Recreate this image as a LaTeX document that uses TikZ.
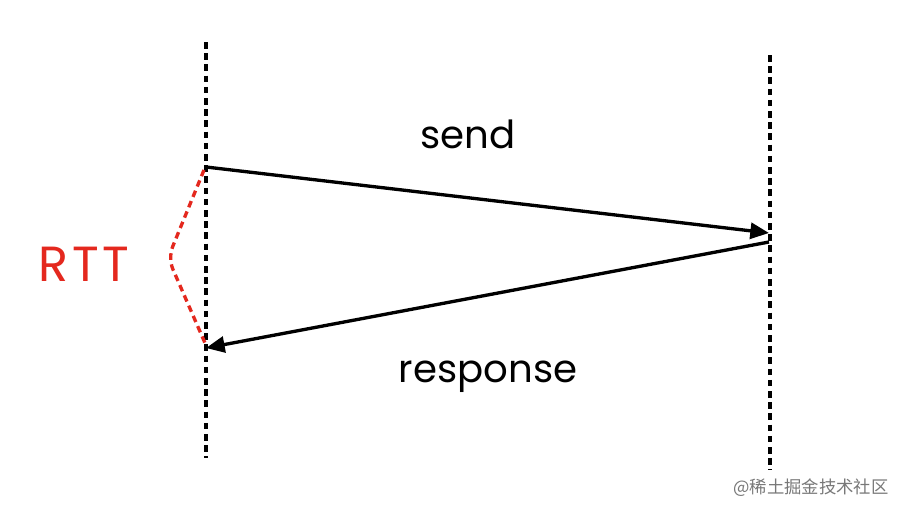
\documentclass[tikz,border=0pt]{standalone}
\usepackage{fontspec}
\setmainfont{Poppins}
\newfontfamily\cjk{Noto Sans CJK SC}
\usetikzlibrary{arrows.meta}
\definecolor{rttred}{RGB}{228,40,30}
\definecolor{wmgray}{RGB}{120,120,120}
\begin{document}
\begin{tikzpicture}[x=0.75pt,y=-0.75pt,
  lifeline/.style={line width=2.6pt,dash pattern=on 5pt off 3.4pt},
  msg/.style={line width=2.5pt,-{Triangle[length=14pt,width=12pt]}},
  rtt/.style={rttred,line width=2.5pt,dash pattern=on 5pt off 3.4pt,rounded corners=9pt},
  lbl/.style={font=\fontsize{29}{32}\selectfont,inner sep=0pt}]
\useasboundingbox[fill=white] (0,0) rectangle (909,514);
% lifelines
\coordinate (l1) at (206,42);
\coordinate (l2) at (206,458);
\coordinate (r1) at (770,55);
\coordinate (r2) at (770,470);
\draw[lifeline] (l1) -- (l2);
\draw[lifeline] (r1) -- (r2);
% messages
\coordinate (s0) at (206,167);
\coordinate (s1) at (769,233);
\coordinate (p0) at (769,242);
\coordinate (p1) at (206,348);
\draw[msg] (s0) -- (s1);
\draw[msg] (p0) -- (p1);
% RTT curve
\coordinate (c0) at (204,170);
\coordinate (cm) at (168,258);
\coordinate (c1) at (205,343);
\draw[rtt] (c0) -- (cm) -- (c1);
% labels
\node[lbl] (send) at (468,134) {send};
\node[lbl] (resp) at (488,377) {response};
\node[lbl,text=rttred,font=\fontsize{37}{38}\selectfont\addfontfeatures{LetterSpace=7}] (rttl) at (84,264) {RTT};
\node[text=wmgray,inner sep=0pt,font=\cjk\fontsize{13}{14}\selectfont] (wm) at (811,488) {@稀土掘金技术社区};
\end{tikzpicture}
\end{document}
